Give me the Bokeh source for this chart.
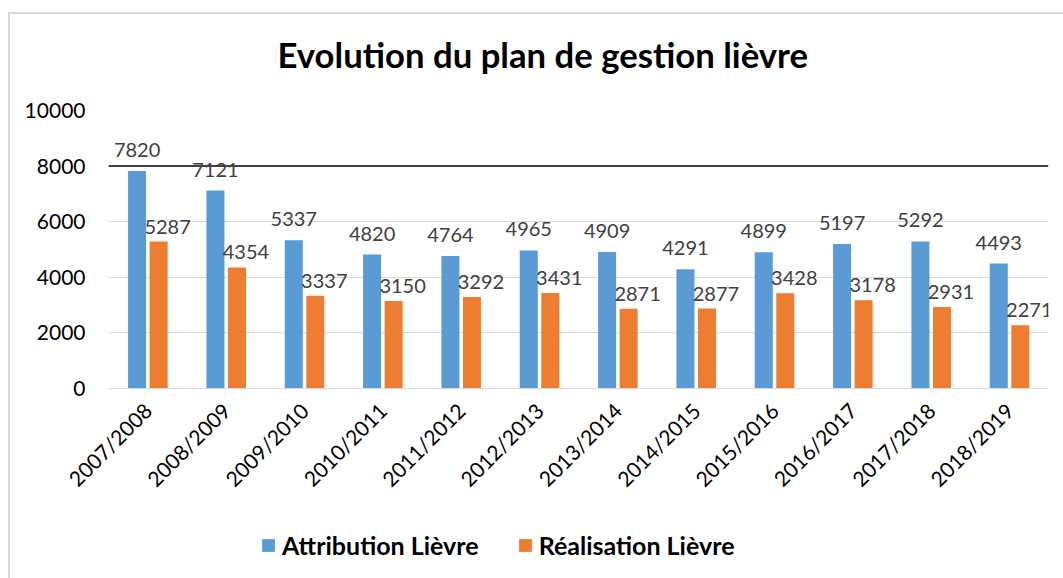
import math
from bokeh.plotting import figure
from bokeh.models import (ColumnDataSource, LabelSet, Legend, LegendItem, Span, Label,
                          FixedTicker, NumeralTickFormatter)
from bokeh.layouts import column
from bokeh.core.properties import value
from bokeh.transform import dodge
from bokeh.embed import file_html
from bokeh.resources import INLINE

chart_title = "Evolution du plan de gestion lièvre"
seasons = ["2007/2008", "2008/2009", "2009/2010", "2010/2011", "2011/2012", "2012/2013",
           "2013/2014", "2014/2015", "2015/2016", "2016/2017", "2017/2018", "2018/2019"]
attribution = [7820, 7121, 5337, 4820, 4764, 4965, 4909, 4291, 4899, 5197, 5292, 4493]
realisation = [5287, 4354, 3337, 3150, 3292, 3431, 2871, 2877, 3428, 3178, 2931, 2271]
series_names = ["Attribution Lièvre", "Réalisation Lièvre"]
y_ticks = [0, 2000, 4000, 6000, 8000, 10000]

BLUE = "#5B9BD5"
ORANGE = "#ED7D31"
FONT = "Lato"


def strip(height):
    f = figure(width=1053, height=height, x_range=(0, 1), y_range=(0, 1),
               output_backend="svg", toolbar_location=None,
               min_border_left=0, min_border_right=0, min_border_top=0, min_border_bottom=0)
    f.axis.visible = False
    f.grid.visible = False
    f.outline_line_color = None
    return f


# title strip
p0 = strip(76)
p0.add_layout(Label(x=169, y=36, x_units="screen", y_units="screen", text=chart_title,
                    text_font=FONT, text_font_size="34.7px", text_font_style="bold",
                    text_color="#000000", text_baseline="alphabetic"))

src = ColumnDataSource(dict(season=seasons, att=attribution, rea=realisation,
                            att_s=[str(v) for v in attribution],
                            rea_s=[str(v) for v in realisation]))

p = figure(x_range=seasons, y_range=(0, 10000), width=1053, height=412,
           output_backend="svg", toolbar_location=None,
           min_border_left=98, min_border_right=15, min_border_top=20, min_border_bottom=114)
p.x_range.range_padding = 0
p.outline_line_color = None
p.border_fill_color = "white"
p.background_fill_color = "white"

r1 = p.vbar(x=dodge("season", -0.135, range=p.x_range), top="att", width=0.23,
            source=src, fill_color=BLUE, line_color=None)
r2 = p.vbar(x=dodge("season", 0.14, range=p.x_range), top="rea", width=0.23,
            source=src, fill_color=ORANGE, line_color=None)

p.add_layout(Span(location=8000, dimension="width", line_color="#404040", line_width=2))

l1 = LabelSet(x=dodge("season", -0.135, range=p.x_range), y="att", text="att_s",
              source=src, y_offset=14, text_align="center", text_baseline="bottom",
              text_font=value(FONT), text_font_size="20px", text_color="#404040")
l2 = LabelSet(x=dodge("season", 0.14, range=p.x_range), y="rea", text="rea_s",
              source=src, x_offset=9, y_offset=8, text_align="center", text_baseline="bottom",
              text_font=value(FONT), text_font_size="20px", text_color="#404040")
p.add_layout(l1)
p.add_layout(l2)

p.yaxis.ticker = FixedTicker(ticks=y_ticks)
p.yaxis.formatter = NumeralTickFormatter(format="0")
p.yaxis.axis_line_color = None
p.yaxis.major_tick_line_color = None
p.yaxis.minor_tick_line_color = None
p.yaxis.major_label_standoff = 17
p.yaxis.major_label_text_font = FONT
p.yaxis.major_label_text_font_size = "21px"
p.yaxis.major_label_text_color = "#000000"

p.xaxis.axis_line_color = "#d9d9d9"
p.xaxis.major_tick_line_color = None
p.xaxis.minor_tick_line_color = None
p.xaxis.major_label_orientation = math.pi / 4
p.xaxis.major_label_standoff = 12
p.xaxis.major_label_text_font = FONT
p.xaxis.major_label_text_font_size = "21px"
p.xaxis.major_label_text_color = "#000000"

p.xgrid.grid_line_color = None
p.ygrid.ticker = FixedTicker(ticks=y_ticks)
p.ygrid.grid_line_color = "#d9d9d9"
p.ygrid.grid_line_width = 1

# legend strip below the chart (zero-height swatch glyphs only feed the legend)
p2 = strip(76)
swatch = ColumnDataSource(dict(x=[0.5], top=[0]))
g1 = p2.vbar(x="x", top="top", width=0.1, source=swatch, fill_color=BLUE, line_color=None)
g2 = p2.vbar(x="x", top="top", width=0.1, source=swatch, fill_color=ORANGE, line_color=None)
legend = Legend(items=[LegendItem(label=series_names[0], renderers=[g1]),
                       LegendItem(label=series_names[1], renderers=[g2])],
                orientation="horizontal", location=(152, 18),
                label_text_font=FONT, label_text_font_size="25px", label_text_font_style="bold",
                label_text_color="#000000", glyph_width=16, glyph_height=16,
                spacing=38, padding=0, margin=0, label_standoff=6,
                border_line_color=None, background_fill_alpha=0)
p2.add_layout(legend, "center")

layout = column(p0, p, p2, spacing=0)

html = file_html(layout, INLINE)
css = ("<style>html{overflow:hidden !important;} "
       "body{margin:12px 0 0 8px !important; padding:0 !important; "
       "border-top:2px solid #d9d9d9; border-left:2px solid #d9d9d9; "
       "height:auto !important; box-sizing:content-box !important;}</style></head>")
html = html.replace("</head>", css, 1)
open("out.html", "w").write(html)
